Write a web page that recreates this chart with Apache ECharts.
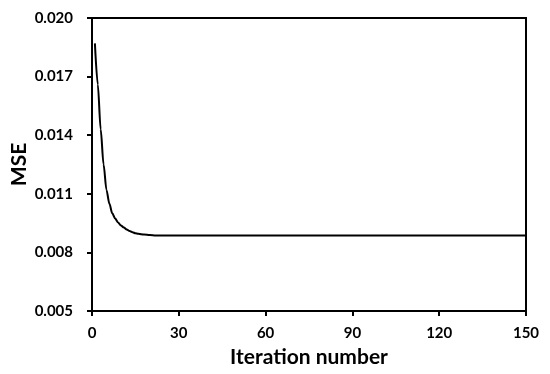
<!DOCTYPE html>
<html>
<head>
<meta charset="utf-8">
<script src="https://cdn.jsdelivr.net/npm/echarts@6/dist/echarts.min.js"></script>
<style>html,body{margin:0;padding:0;background:#fff;}#c{width:550px;height:374px;}</style>
</head>
<body>
<div id="c"></div>
<script>
const iterations = [1, 2, 3, 4, 5, 6, 7, 8, 9, 10, 11, 12, 13, 14, 15, 16, 18, 20, 22, 25, 30, 40, 60, 90, 120, 150];
const mse = [0.0187, 0.0166, 0.0143, 0.0125, 0.0112, 0.0105, 0.0100, 0.00973, 0.00953, 0.00938, 0.00927, 0.00917, 0.00909, 0.00903, 0.00898, 0.00895, 0.00891, 0.00889, 0.00887, 0.00886, 0.00886, 0.00886, 0.00886, 0.00886, 0.00886, 0.00886];
const xTicks = [0, 30, 60, 90, 120, 150];
const yTicks = [0.005, 0.008, 0.011, 0.014, 0.017, 0.020];

const chart = echarts.init(document.getElementById('c'));
const font = 'Lato, "Open Sans", sans-serif';
chart.setOption({
  animation: false,
  grid: { left: 92, right: 24, top: 18, bottom: 63, show: true, borderColor: '#000', borderWidth: 2,
    containLabel: false, outerBoundsMode: 'none' },
  xAxis: {
    type: 'value', min: xTicks[0], max: xTicks[xTicks.length - 1], interval: 30,
    name: 'Iteration number', nameLocation: 'middle', nameGap: 36, nameMoveOverlap: false,
    nameTextStyle: { fontFamily: font, fontWeight: 'bold', fontSize: 21, color: '#000' },
    axisLine: { show: true, lineStyle: { color: '#000', width: 2 } },
    axisTick: { show: true, length: 5, lineStyle: { color: '#000', width: 2 } },
    axisLabel: { margin: 15, fontFamily: font, fontWeight: 'bold', fontSize: 15, color: '#000' },
    splitLine: { show: false }
  },
  yAxis: {
    type: 'value', min: yTicks[0], max: yTicks[yTicks.length - 1], interval: 0.003,
    name: 'MSE', nameLocation: 'middle', nameGap: 62, nameMoveOverlap: false,
    nameTextStyle: { fontFamily: font, fontWeight: 'bold', fontSize: 21, color: '#000' },
    axisLine: { show: true, lineStyle: { color: '#000', width: 2 } },
    axisTick: { show: true, length: 5, lineStyle: { color: '#000', width: 2 } },
    axisLabel: { margin: 19, fontFamily: font, fontWeight: 'bold', fontSize: 15, color: '#000',
      formatter: v => v.toFixed(3) },
    splitLine: { show: false }
  },
  series: [{
    type: 'line', smooth: 0.3, smoothMonotone: 'x', showSymbol: false,
    data: iterations.map((x, i) => [x, mse[i]]),
    lineStyle: { color: '#000', width: 2 }
  }]
});
</script>
</body>
</html>
